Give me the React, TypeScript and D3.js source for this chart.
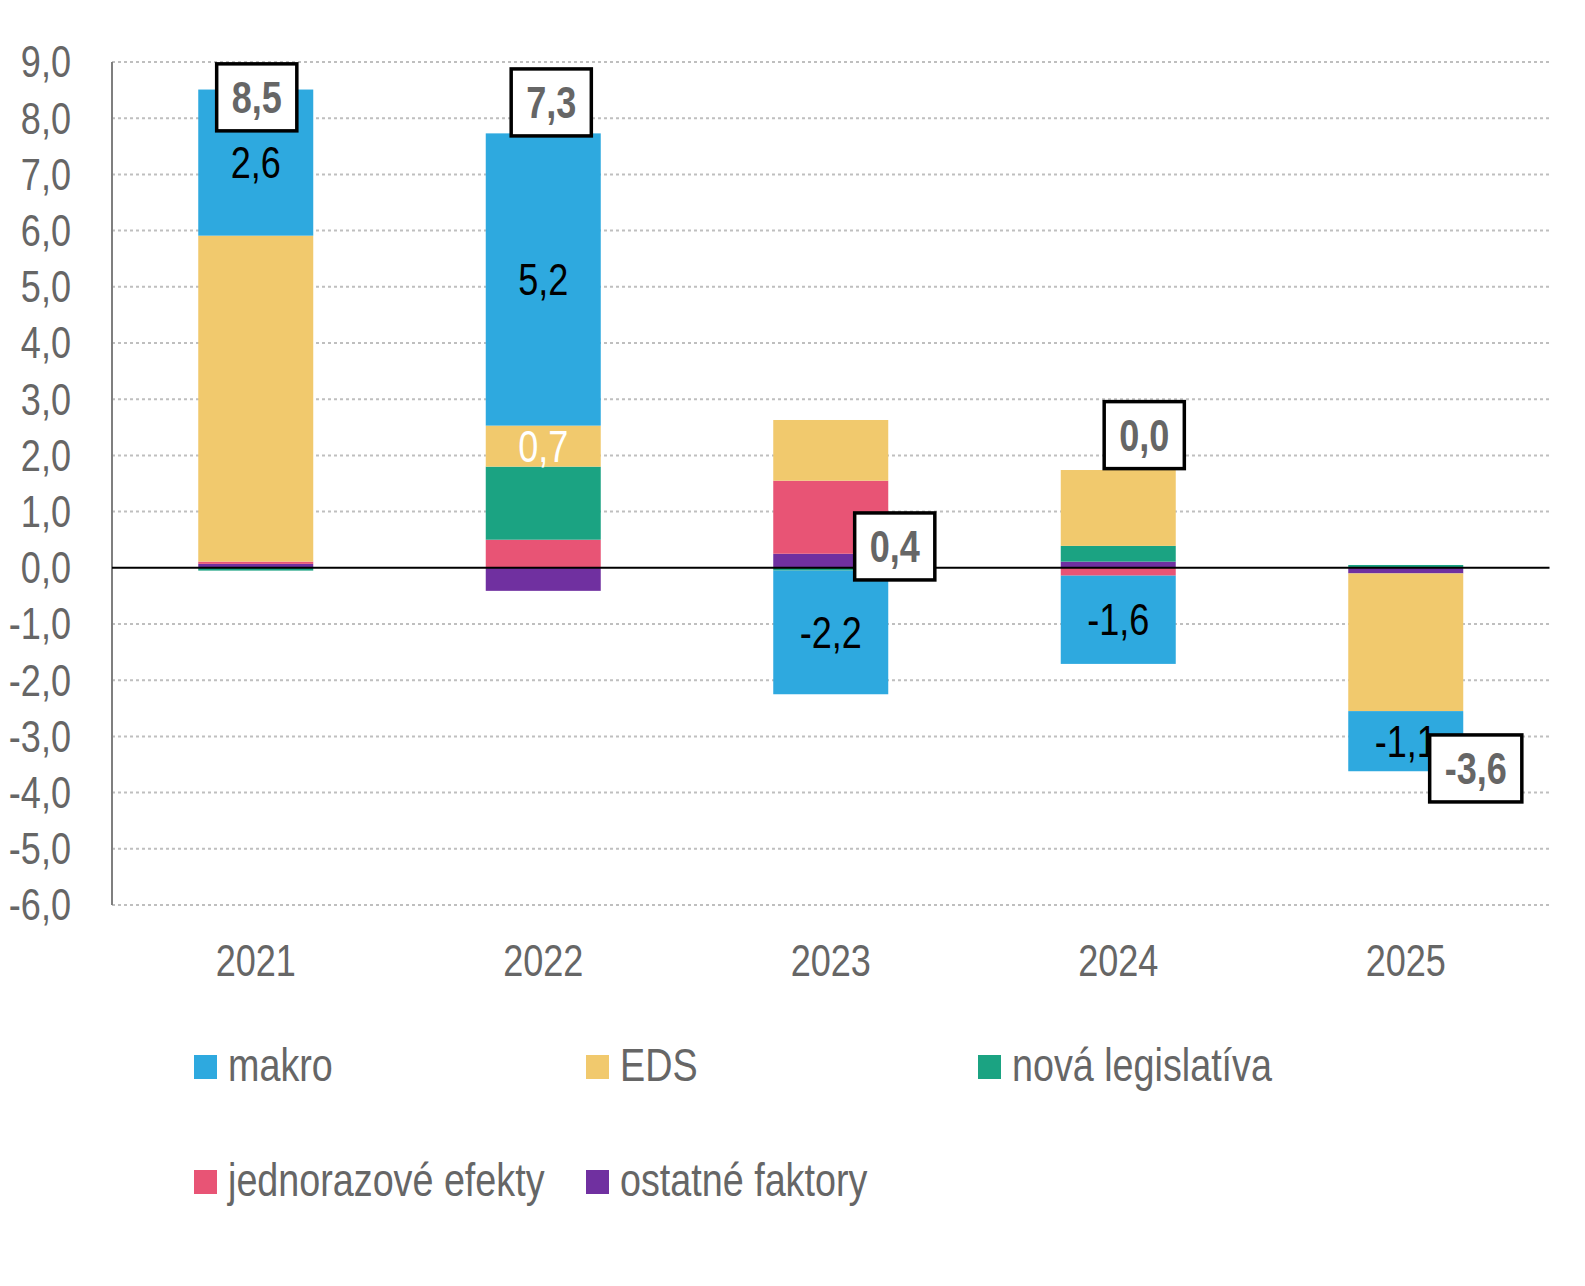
import React, { useEffect, useRef } from "react";
import * as d3 from "d3";

const years = ["2021", "2022", "2023", "2024", "2025"];

// series values
const makro = [2.6, 5.2, -2.2, -1.57, -1.07];
const eds = [5.8, 0.73, 1.08, 1.35, -2.45];
const novaLegislativa = [-0.05, 1.3, -0.05, 0.28, 0.05];
const jednorazove = [0.04, 0.5, 1.3, -0.14, 0];
const ostatne = [0.07, -0.41, 0.25, 0.11, -0.1];

const seriesNames = ["makro", "EDS", "nová legislatíva", "jednorazové efekty", "ostatné faktory"];
const seriesColors = ["#2EA9DF", "#F1C96D", "#1BA382", "#E85475", "#7030A0"];
const yTicks = [-6, -5, -4, -3, -2, -1, 0, 1, 2, 3, 4, 5, 6, 7, 8, 9];

// manual nudges of the total boxes (px), like the hand-placed labels in the original
const totalDx = [1, 8, 64, 26, 70];
const totalDy = [5, -54, 0, -131, 0];

// no narrow font installed, so Liberation Sans is squeezed horizontally
const FONT = "'Liberation Sans', Arial, sans-serif";
const NARROW = 0.82;
const fmt = (v: number) => v.toFixed(1).replace(".", ",").replace(/^-0,0$/, "0,0");
const at = (px: number, py: number) => `translate(${px},${py}) scale(${NARROW},1)`;

const App = () => {
  const ref = useRef(null);

  useEffect(() => {
    if (!ref.current) return;
    const svg = d3.select(ref.current);
    svg.selectAll("*").remove();

    const allSeries = [makro, eds, novaLegislativa, jednorazove, ostatne];
    const rows = years.map((y, i) => {
      const r: any = { year: y };
      seriesNames.forEach((n, k) => (r[n] = allSeries[k][i]));
      return r;
    });
    // stacked from the zero line outwards: ostatné, jednorazové, nová, EDS, makro
    const stackKeys = seriesNames.slice().reverse();
    const stacked = d3.stack().keys(stackKeys).offset(d3.stackOffsetDiverging)(rows);
    const totals = rows.map((r) => d3.sum(seriesNames, (n) => r[n]));

    const x = d3.scaleBand().domain(years).range([112, 1549.5]).paddingInner(0.6).paddingOuter(0.3);
    const y = d3.scaleLinear().domain([-6, 9]).range([905, 62]);
    const color = d3.scaleOrdinal<string, string>().domain(seriesNames).range(seriesColors);
    const cx = (d: string) => x(d)! + x.bandwidth() / 2;

    // grid
    svg.append("g")
      .selectAll("line")
      .data(yTicks.filter((t) => t !== 0))
      .enter()
      .append("line")
      .attr("x1", 112)
      .attr("x2", 1549.5)
      .attr("y1", (d) => y(d))
      .attr("y2", (d) => y(d))
      .attr("stroke", "#bfbfbf")
      .attr("stroke-width", 2)
      .attr("stroke-dasharray", "3 3");

    // y axis line and tick labels
    svg.append("line")
      .attr("x1", 112).attr("x2", 112)
      .attr("y1", y(9)).attr("y2", y(-6))
      .attr("stroke", "#7f7f7f").attr("stroke-width", 2);

    svg.append("g")
      .selectAll("text")
      .data(yTicks)
      .enter()
      .append("text")
      .attr("transform", (d) => at(71, y(d)))
      .attr("dy", "0.35em")
      .attr("text-anchor", "end")
      .attr("font-family", FONT)
      .attr("font-size", 44)
      .attr("fill", "#666")
      .text((d) => fmt(d));

    // bars
    const layer = svg.append("g")
      .selectAll("g")
      .data(stacked)
      .enter()
      .append("g")
      .attr("fill", (d: any) => color(d.key));
    layer.selectAll("rect")
      .data((d: any) => d)
      .enter()
      .append("rect")
      .attr("x", (d: any) => x(d.data.year)!)
      .attr("width", x.bandwidth())
      .attr("y", (d: any) => y(Math.max(d[0], d[1])))
      .attr("height", (d: any) => Math.abs(y(d[0]) - y(d[1])));

    // zero line
    svg.append("line")
      .attr("x1", 112).attr("x2", 1549.5)
      .attr("y1", y(0)).attr("y2", y(0))
      .attr("stroke", "#000").attr("stroke-width", 2);

    // segment labels: makro everywhere, EDS only in 2022
    const segLabels: any[] = [];
    stacked.forEach((s: any) => {
      s.forEach((d: any, i: number) => {
        if (s.key === "makro" || (s.key === "EDS" && i === 1)) {
          segLabels.push({ key: s.key, year: d.data.year, v: d.data[s.key], mid: (d[0] + d[1]) / 2 });
        }
      });
    });
    svg.append("g")
      .selectAll("text")
      .data(segLabels)
      .enter()
      .append("text")
      .attr("transform", (d) => at(cx(d.year), y(d.mid)))
      .attr("dy", "0.35em")
      .attr("text-anchor", "middle")
      .attr("font-family", FONT)
      .attr("font-size", 44)
      .attr("fill", (d) => (d.key === "EDS" ? "#fff" : "#000"))
      .text((d) => fmt(d.v));

    // x labels
    svg.append("g")
      .selectAll("text")
      .data(years)
      .enter()
      .append("text")
      .attr("transform", (d) => at(cx(d), 976))
      .attr("text-anchor", "middle")
      .attr("font-family", FONT)
      .attr("font-size", 44)
      .attr("fill", "#666")
      .text((d) => d);

    // total boxes
    const tg = svg.append("g")
      .selectAll("g")
      .data(years)
      .enter()
      .append("g")
      .attr("transform", (d, i) => `translate(${cx(d) + totalDx[i]},${y(totals[i]) + totalDy[i]})`);
    const rects = tg.append("rect")
      .attr("fill", "#fff")
      .attr("stroke", "#000")
      .attr("stroke-width", 3.5);
    const texts = tg.append("text")
      .attr("transform", `scale(${NARROW},1)`)
      .attr("text-anchor", "middle")
      .attr("dy", "0.35em")
      .attr("font-family", FONT)
      .attr("font-size", 44)
      .attr("font-weight", "bold")
      .attr("fill", "#666")
      .text((d, i) => fmt(totals[i]));
    texts.each(function (_d, i) {
      const w = (this as SVGTextElement).getComputedTextLength() * NARROW + 30;
      d3.select(rects.nodes()[i])
        .attr("x", -w / 2)
        .attr("width", w)
        .attr("y", -33.5)
        .attr("height", 67);
    });

    // legend
    const lg = svg.append("g")
      .selectAll("g")
      .data(seriesNames)
      .enter()
      .append("g")
      .attr("transform", (d, i) => `translate(${194 + (i % 3) * 392},${1055 + Math.floor(i / 3) * 115})`);
    lg.append("rect")
      .attr("width", 23)
      .attr("height", 24)
      .attr("fill", (d) => color(d));
    lg.append("text")
      .attr("transform", at(34, 26))
      .attr("font-family", FONT)
      .attr("font-size", 46)
      .attr("fill", "#666")
      .text((d) => d);
  }, []);

  return (
    <svg
      ref={ref}
      width={1585}
      height={1286}
      style={{ position: "absolute", left: 0, top: 0, display: "block", background: "#fff" }}
    />
  );
};

export default App;
